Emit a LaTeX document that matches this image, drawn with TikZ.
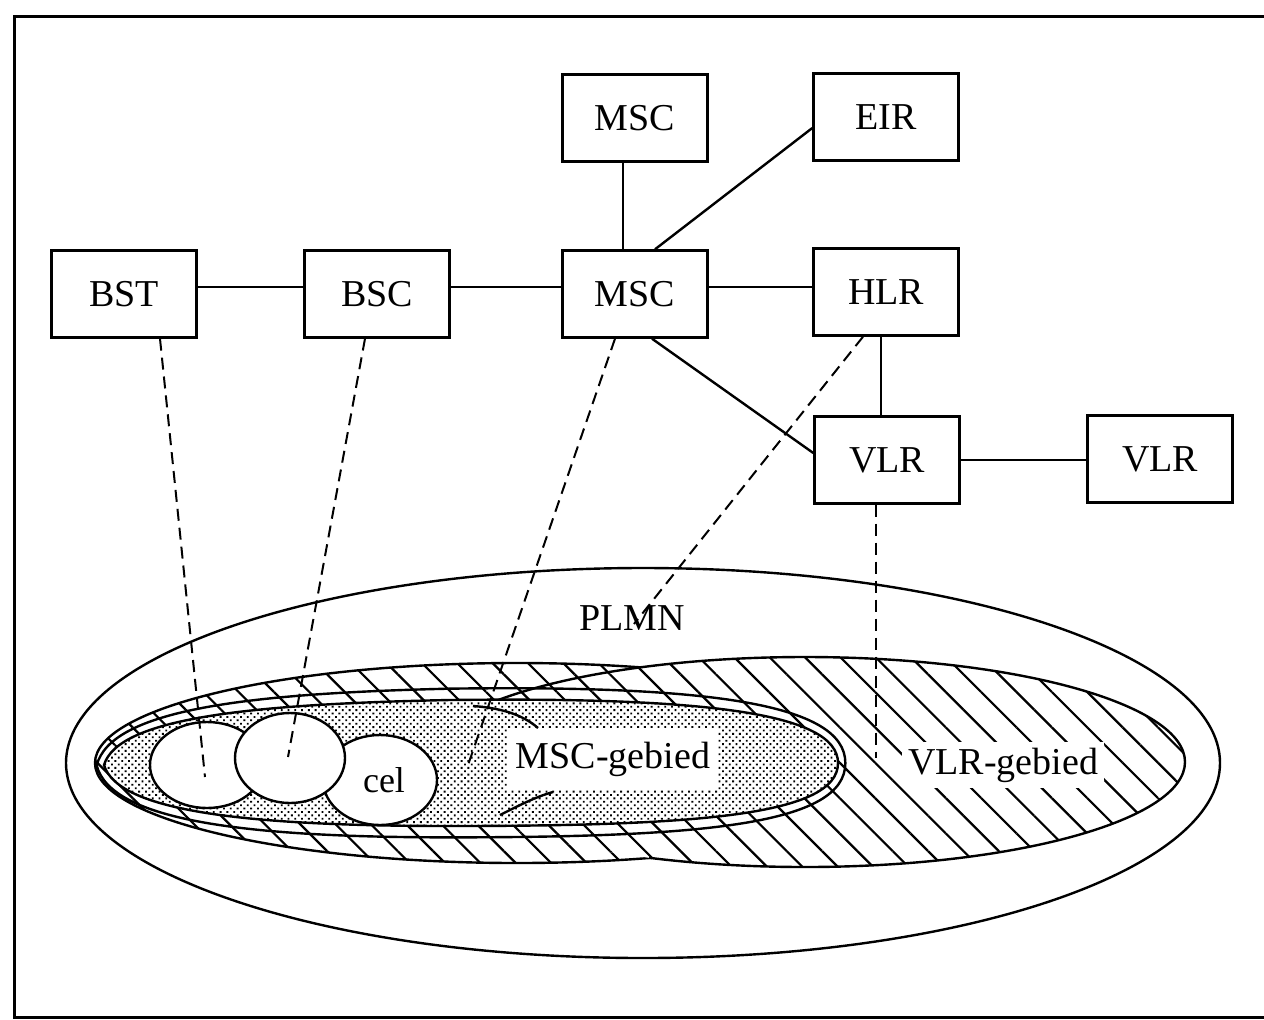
\documentclass[tikz,border=0pt]{standalone}
\usepackage{fontspec}
\setmainfont{Liberation Serif}
\usetikzlibrary{patterns.meta,positioning,calc}
\tikzset{every picture/.style={line width=1.2pt}}
\tikzset{
  netbox/.style={draw, fill=white, minimum width=72.5pt, minimum height=43.5pt, inner sep=0pt, font=\fontsize{19}{22}\selectfont},
  dashlink/.style={line width=1pt, dash pattern=on 6pt off 3.5pt},
  hatch/.style={pattern={Lines[angle=-45,distance=12.5pt,line width=1.1pt]}},
  stipple/.style={pattern={Dots[angle=45,distance=2.4pt,radius=0.65pt]}},
  cell/.style={draw, fill=white},
  arealabel/.style={font=\fontsize{19}{22}\selectfont, inner sep=1pt}
}

\begin{document}
\begin{tikzpicture}[x=0.5pt,y=-0.5pt]
    \useasboundingbox (0,0) rectangle (1264,1019);

    % 外框
    \draw[line width=1.5pt] (1264,16) -- (14,16) -- (14,1017) -- (1264,1017);

    % PLMN 区域
    \draw (643,763) ellipse [x radius=577, y radius=195];
    \node[arealabel] (plmn) at (632,618) {PLMN};

    % MSC 区域 (斜线)
    \fill[hatch] (517,763) ellipse [x radius=422, y radius=100];
    \draw (517,763) ellipse [x radius=422, y radius=100];

    % VLR 区域 (斜线)
    \fill[white] (805,762) ellipse [x radius=380, y radius=105];
    \fill[hatch] (805,762) ellipse [x radius=380, y radius=105];
    \begin{scope}
        \clip (0,0) -- (1264,0) -- (1264,1019) -- (649,1019) -- (649,763) -- (0,763) -- cycle;
        \draw (805,762) ellipse [x radius=380, y radius=105];
    \end{scope}

    % MSC 区域 (点状)
    \draw[shift={(470,763)}, xscale=1.02, yscale=1.18, shift={(-470,-763)}]
        (104,765) .. controls (118,718) and (250,704) .. (450,700)
        .. controls (700,697) and (838,712) .. (838,763)
        .. controls (838,815) and (700,826) .. (450,826)
        .. controls (250,826) and (118,812) .. (104,765) -- cycle;
    \fill[white] (104,765) .. controls (118,718) and (250,704) .. (450,700)
        .. controls (700,697) and (838,712) .. (838,763)
        .. controls (838,815) and (700,826) .. (450,826)
        .. controls (250,826) and (118,812) .. (104,765) -- cycle;
    \filldraw[stipple] (104,765) .. controls (118,718) and (250,704) .. (450,700)
        .. controls (700,697) and (838,712) .. (838,763)
        .. controls (838,815) and (700,826) .. (450,826)
        .. controls (250,826) and (118,812) .. (104,765) -- cycle;
    \node[arealabel, fill=white, minimum width=105pt, minimum height=31pt] (mscarea) at (613,759) {MSC-gebied};
    \draw (473,706) .. controls (500,708) and (522,714) .. (538,728);
    \draw (500,815) .. controls (518,806) and (535,797) .. (553,792);
    \node[arealabel, fill=white, inner sep=3pt] (vlrarea) at (1003,765) {VLR-gebied};

    % 小区
    \draw[cell] (207,765) ellipse [x radius=57, y radius=43];
    \draw[cell] (380,780) ellipse [x radius=57, y radius=45];
    \draw[cell] (290,758) ellipse [x radius=55, y radius=45];
    \node[arealabel, font=\fontsize{18}{20}\selectfont] (cel) at (384,780) {cel};
    \coordinate (cellA) at (205,777);
    \coordinate (cellB) at (288,757);
    \coordinate (mscpt) at (467,768);
    \coordinate (vlrpt) at (876,758);

    % 网络单元
    \node[netbox] (msctop) at (635,118) {MSC};
    \node[netbox] (eir) at (886,117) {EIR};
    \node[netbox] (bst) at (124,294) {BST};
    \node[netbox] (bsc) at (377,294) {BSC};
    \node[netbox] (msc) at (635,294) {MSC};
    \node[netbox] (hlr) at (886,292) {HLR};
    \node[netbox] (vlr) at (887,460) {VLR};
    \node[netbox] (vlrext) at (1160,459) {VLR};

    % 连线
    \draw ([yshift=3.5pt]bst.east) -- ([yshift=3.5pt]bsc.west);
    \draw ([yshift=3.5pt]bsc.east) -- ([yshift=3.5pt]msc.west);
    \draw ([yshift=3.5pt]msc.east) -- ([yshift=3.5pt]msc.east -| hlr.west);
    \draw ([xshift=-6pt]msctop.south) -- ([xshift=-6pt]msc.north);
    \draw ([xshift=10pt]msc.north) -- ([yshift=-5.5pt]eir.west);
    \draw ([xshift=8.5pt]msc.south) -- ([yshift=3.5pt]vlr.west);
    \draw ([xshift=-2.5pt]hlr.south) -- ([xshift=-2.5pt]hlr.south |- vlr.north);
    \draw (vlr.east) -- (vlr.east -| vlrext.west);

    % 虚线
    \draw[dashlink] ([xshift=18pt]bst.south) -- (cellA);
    \draw[dashlink] ([xshift=-6pt]bsc.south) -- (cellB);
    \draw[dashlink] ([xshift=-10pt]msc.south) -- (mscpt);
    \draw[dashlink] ([xshift=-11.5pt]hlr.south) -- ([xshift=1pt,yshift=-3pt]plmn.center);
    \draw[dashlink] ([xshift=-5.5pt]vlr.south) -- (vlrpt);
\end{tikzpicture}
\end{document}
